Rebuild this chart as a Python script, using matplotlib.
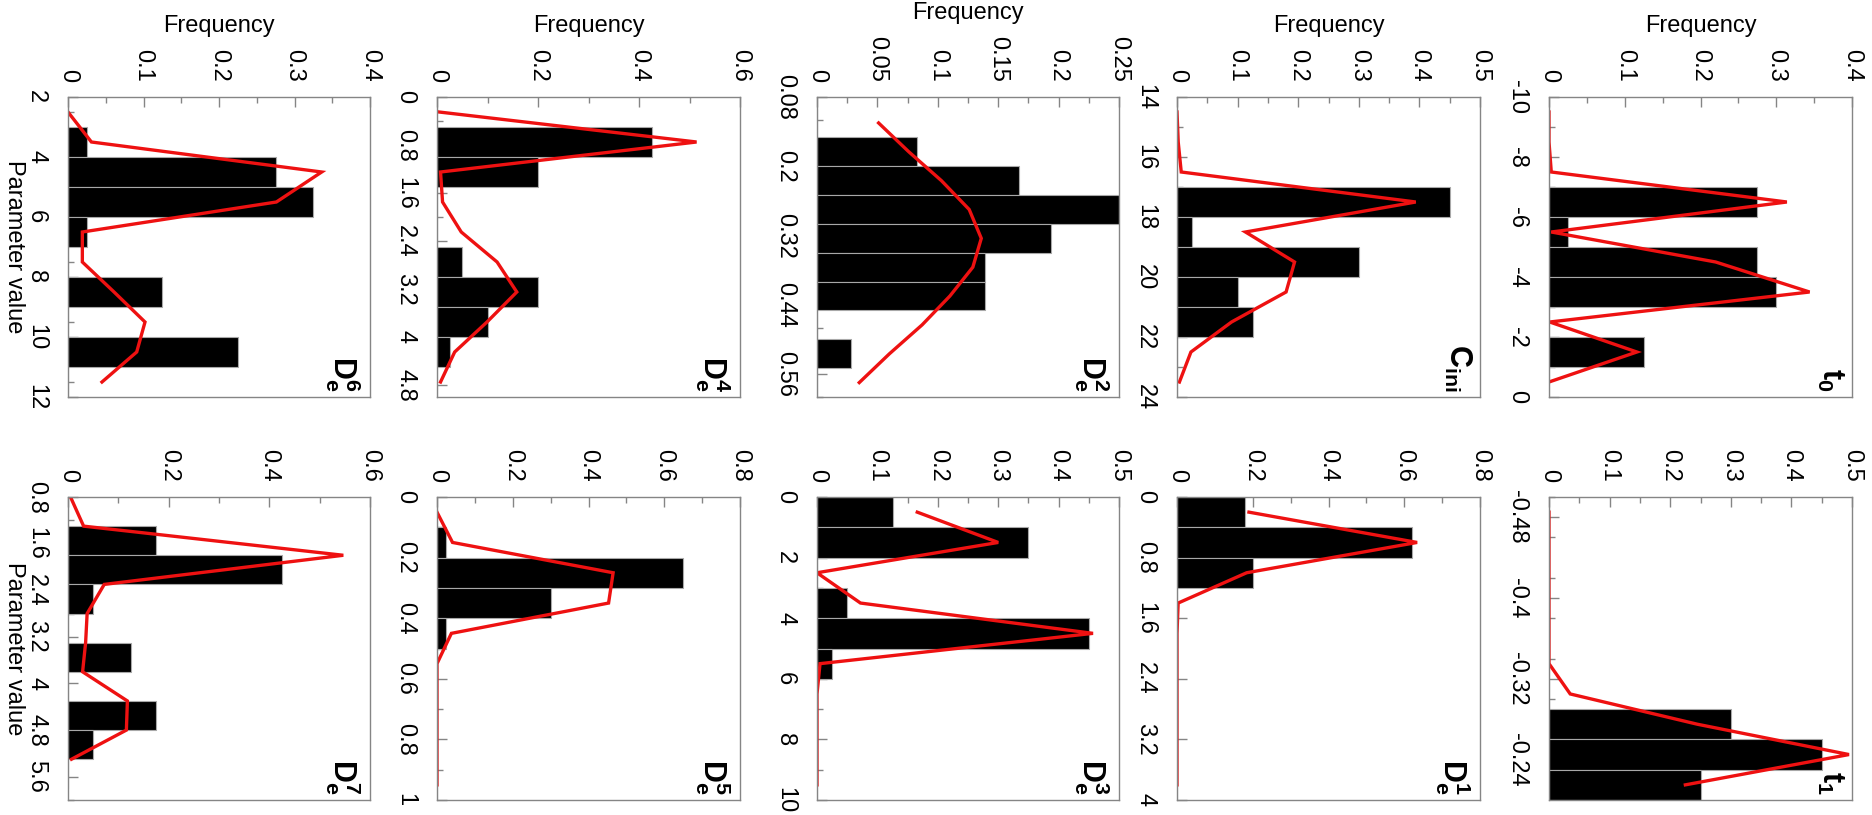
import numpy as np
import matplotlib
matplotlib.use("Agg")
import matplotlib.pyplot as plt

plt.rcParams["font.family"] = ["Liberation Sans", "DejaVu Sans"]
plt.rcParams["axes.unicode_minus"] = False
plt.rcParams["mathtext.fontset"] = "custom"
plt.rcParams["mathtext.rm"] = "Liberation Sans"
plt.rcParams["mathtext.it"] = "Liberation Sans:italic"
plt.rcParams["mathtext.bf"] = "Liberation Sans:bold"

# --- dane: lewe krawedzie przedzialow, czestosci (slupki) i dopasowanie (linia) ---
t0_bins = [-10, -9, -8, -7, -6, -5, -4, -3, -2, -1]
t0_freq = [0, 0, 0, 0.275, 0.025, 0.275, 0.30, 0, 0.125, 0]
t0_fit_x = [-9.5, -8.5, -7.5, -6.5, -5.5, -4.5, -3.5, -2.5, -1.5, -0.5]
t0_fit = [0, 0, 0.003, 0.314, 0.003, 0.22, 0.344, 0.001, 0.116, 0]

cini_bins = [14, 15, 16, 17, 18, 19, 20, 21, 22, 23]
cini_freq = [0, 0, 0, 0.45, 0.025, 0.30, 0.10, 0.125, 0, 0]
cini_fit_x = [14.5, 15.5, 16.5, 17.5, 18.5, 19.5, 20.5, 21.5, 22.5, 23.5]
cini_fit = [0, 0.002, 0.007, 0.394, 0.113, 0.194, 0.18, 0.09, 0.023, 0.004]

de2_bins = [0.1, 0.15, 0.2, 0.25, 0.3, 0.35, 0.4, 0.45, 0.5, 0.55]
de2_freq = [0, 0.083, 0.167, 0.25, 0.194, 0.139, 0.139, 0, 0.028, 0]
de2_fit_x = [0.125, 0.175, 0.225, 0.275, 0.325, 0.375, 0.425, 0.475, 0.525, 0.575]
de2_fit = [0.051, 0.076, 0.103, 0.126, 0.136, 0.129, 0.110, 0.087, 0.060, 0.035]

de4_bins = [0, 0.5, 1.0, 1.5, 2.0, 2.5, 3.0, 3.5, 4.0, 4.5]
de4_freq = [0, 0.425, 0.2, 0, 0, 0.05, 0.2, 0.1, 0.025, 0]
de4_fit_x = [0.25, 0.75, 1.25, 1.75, 2.25, 2.75, 3.25, 3.75, 4.25, 4.75]
de4_fit = [0.004, 0.514, 0.007, 0.011, 0.048, 0.119, 0.158, 0.099, 0.035, 0.007]

de6_bins = [2, 3, 4, 5, 6, 7, 8, 9, 10, 11]
de6_freq = [0, 0.025, 0.275, 0.325, 0.025, 0, 0.125, 0, 0.225, 0]
de6_fit_x = [2.5, 3.5, 4.5, 5.5, 6.5, 7.5, 8.5, 9.5, 10.5, 11.5]
de6_fit = [0, 0.031, 0.336, 0.276, 0.019, 0.019, 0.061, 0.102, 0.091, 0.045]

t1_bins = [-0.5, -0.47, -0.44, -0.41, -0.38, -0.35, -0.32, -0.29, -0.26, -0.23]
t1_freq = [0, 0, 0, 0, 0, 0, 0, 0.30, 0.45, 0.25]
t1_fit_x = [-0.485, -0.455, -0.425, -0.395, -0.365, -0.335, -0.305, -0.275, -0.245, -0.215]
t1_fit = [0, 0, 0, 0, 0, 0, 0.035, 0.245, 0.495, 0.225]

de1_bins = [0, 0.4, 0.8, 1.2, 1.6, 2.0, 2.4, 2.8, 3.2, 3.6]
de1_freq = [0.18, 0.62, 0.20, 0, 0, 0, 0, 0, 0, 0]
de1_fit_x = [0.2, 0.6, 1.0, 1.4, 1.8, 2.2, 2.6, 3.0, 3.4, 3.8]
de1_fit = [0.19, 0.634, 0.184, 0.003, 0, 0, 0, 0, 0, 0]

de3_bins = [0, 1, 2, 3, 4, 5, 6, 7, 8, 9]
de3_freq = [0.125, 0.35, 0, 0.05, 0.45, 0.025, 0, 0, 0, 0]
de3_fit_x = [0.5, 1.5, 2.5, 3.5, 4.5, 5.5, 6.5, 7.5, 8.5, 9.5]
de3_fit = [0.166, 0.30, 0, 0.072, 0.457, 0.005, 0, 0, 0, 0]

de5_bins = [0, 0.1, 0.2, 0.3, 0.4, 0.5, 0.6, 0.7, 0.8, 0.9]
de5_freq = [0, 0.025, 0.65, 0.30, 0.025, 0, 0, 0, 0, 0]
de5_fit_x = [0.05, 0.15, 0.25, 0.35, 0.45, 0.55, 0.65, 0.75, 0.85, 0.95]
de5_fit = [0, 0.041, 0.465, 0.453, 0.038, 0, 0, 0, 0, 0]

de7_bins = [0.8, 1.3, 1.8, 2.3, 2.8, 3.3, 3.8, 4.3, 4.8, 5.3]
de7_freq = [0, 0.175, 0.425, 0.05, 0, 0.125, 0, 0.175, 0.05, 0]
de7_fit_x = [0.8, 1.3, 1.8, 2.3, 2.8, 3.3, 3.8, 4.3, 4.8, 5.3]
de7_fit = [0.005, 0.031, 0.547, 0.072, 0.038, 0.035, 0.029, 0.118, 0.116, 0.007]

# etykiety osi parametru
t0_ticks = [-10, -8, -6, -4, -2, 0]
cini_ticks = [14, 16, 18, 20, 22, 24]
de2_ticks = [0.08, 0.2, 0.32, 0.44, 0.56]
de4_ticks = [0, 0.8, 1.6, 2.4, 3.2, 4, 4.8]
de6_ticks = [2, 4, 6, 8, 10, 12]
t1_ticks = [-0.48, -0.4, -0.32, -0.24]
de1_ticks = [0, 0.8, 1.6, 2.4, 3.2, 4]
de3_ticks = [0, 2, 4, 6, 8, 10]
de5_ticks = [0, 0.2, 0.4, 0.6, 0.8, 1]
de7_ticks = [0.8, 1.6, 2.4, 3.2, 4, 4.8, 5.6]

# pozycje paneli w pikselach (x0, x1) i (y0, y1) od gory
W, H = 1872, 815
cols = [(68, 370), (437, 740), (817, 1119), (1177, 1480), (1549, 1852)]
rows = [(97, 397), (497, 800)]

# (etykieta, dane, szer. przedz., zakres param, etykiety, krok minor, max czest., krok czest., minor czest., kol, wiersz)
panels = [
    (r"$\mathbf{t}_\mathbf{0}$", t0_bins, t0_freq, 1, t0_fit_x, t0_fit, (-10, 0), t0_ticks, 1, 0.4, 0.1, 0.05, 4, 0),
    (r"$\mathbf{C}_\mathbf{ini}$", cini_bins, cini_freq, 1, cini_fit_x, cini_fit, (14, 24), cini_ticks, 1, 0.5, 0.1, 0.05, 3, 0),
    (r"$\mathbf{D}_\mathbf{e}^\mathbf{2}$", de2_bins, de2_freq, 0.05, de2_fit_x, de2_fit, (0.08, 0.6), de2_ticks, 0.04, 0.25, 0.05, 0.025, 2, 0),
    (r"$\mathbf{D}_\mathbf{e}^\mathbf{4}$", de4_bins, de4_freq, 0.5, de4_fit_x, de4_fit, (0, 5), de4_ticks, 0.4, 0.6, 0.2, 0.1, 1, 0),
    (r"$\mathbf{D}_\mathbf{e}^\mathbf{6}$", de6_bins, de6_freq, 1, de6_fit_x, de6_fit, (2, 12), de6_ticks, None, 0.4, 0.1, 0.05, 0, 0),
    (r"$\mathbf{t}_\mathbf{1}$", t1_bins, t1_freq, 0.03, t1_fit_x, t1_fit, (-0.5, -0.2), t1_ticks, 0.04, 0.5, 0.1, 0.05, 4, 1),
    (r"$\mathbf{D}_\mathbf{e}^\mathbf{1}$", de1_bins, de1_freq, 0.4, de1_fit_x, de1_fit, (0, 4), de1_ticks, 0, 0.8, 0.2, 0.1, 3, 1),
    (r"$\mathbf{D}_\mathbf{e}^\mathbf{3}$", de3_bins, de3_freq, 1, de3_fit_x, de3_fit, (0, 10), de3_ticks, 1, 0.5, 0.1, 0.05, 2, 1),
    (r"$\mathbf{D}_\mathbf{e}^\mathbf{5}$", de5_bins, de5_freq, 0.1, de5_fit_x, de5_fit, (0, 1), de5_ticks, 0.1, 0.8, 0.2, 0.1, 1, 1),
    (r"$\mathbf{D}_\mathbf{e}^\mathbf{7}$", de7_bins, de7_freq, 0.5, de7_fit_x, de7_fit, (0.8, 6), de7_ticks, 0.4, 0.6, 0.2, 0.1, 0, 1),
]

GRAY = "#858585"
RED = "#ee1111"


def fmt(v):
    return f"{round(v, 6):g}"


fig = plt.figure(figsize=(W / 100, H / 100), dpi=100)
fig.patch.set_facecolor("white")

for (label, bins, freq, bw, fx, fy, prange, pticks, pminor, fmax, fstep, fminor, c, r) in panels:
    x0, x1 = cols[c]
    y0, y1 = rows[r]
    ax = fig.add_axes([x0 / W, 1 - y1 / H, (x1 - x0) / W, (y1 - y0) / H])
    ax.set_axisbelow(True)

    ax.barh(bins, freq, height=bw, align="edge", color="black",
            edgecolor="#a8a8a8", linewidth=0.8, zorder=1)
    ax.plot(fy, fx, color=RED, lw=2.4, solid_joinstyle="miter", zorder=2)

    ax.set_xlim(0, fmax)
    ax.set_ylim(prange[1], prange[0])

    # os czestosci (gora)
    ax.xaxis.tick_top()
    ax.xaxis.set_label_position("top")
    fmaj = np.round(np.arange(0, fmax + 1e-9, fstep), 6)
    fmin = np.round(np.arange(0, fmax + 1e-9, fminor), 6)
    ax.set_xticks(fmaj, [fmt(v) for v in fmaj], rotation=-90)
    ax.set_xticks(fmin, minor=True)

    # os parametru (lewa)
    ax.set_yticks(pticks, [fmt(v) for v in pticks], rotation=-90, va="center")
    if pminor is None:
        pmin = np.arange(prange[0] + 0.5, prange[1], 1.0)
        ax.set_yticks(pmin, minor=True)
    elif pminor > 0:
        pmin = np.round(np.arange(prange[0], prange[1] + 1e-9, pminor), 6)
        ax.set_yticks(pmin, minor=True)

    ax.tick_params(which="both", direction="in", color=GRAY, width=1.0,
                   top=True, bottom=False, left=True, right=False,
                   labeltop=True, labelbottom=False, labelsize=17)
    ax.tick_params(which="major", length=7)
    ax.tick_params(which="minor", length=4.5)
    ax.tick_params(axis="x", pad=11)
    ax.tick_params(axis="y", pad=15)
    for s in ax.spines.values():
        s.set_color(GRAY)
        s.set_linewidth(1.0)

    if r == 0:
        ax.set_xlabel("Frequency", fontsize=17, labelpad=12)
    if c == 0:
        ax.set_ylabel("Parameter value", fontsize=17, rotation=-90, va="top", labelpad=0)

    ax.text(1 - 7 / 303, 5 / 300, label, transform=ax.transAxes, rotation=-90,
            ha="right", va="bottom", fontsize=22, zorder=3)

fig.savefig("out.png", dpi=100, facecolor="white")
